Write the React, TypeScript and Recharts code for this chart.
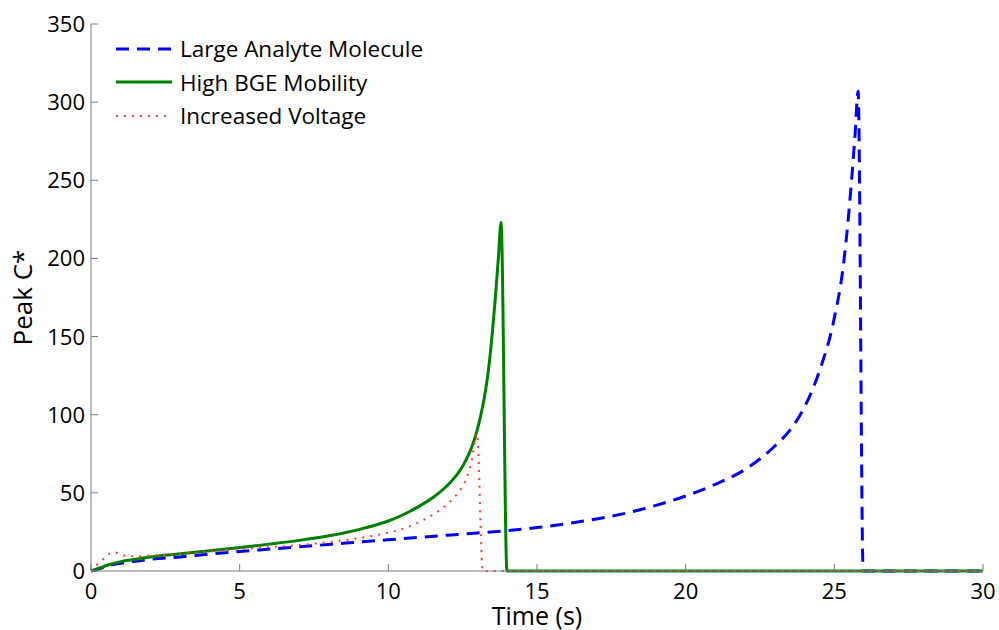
import { LineChart, Line, XAxis, YAxis, Legend } from 'recharts';

// Large Analyte Molecule (blue dashed)
const blueTime = [0, 0.3, 0.6, 1, 1.5, 2, 3, 4, 5, 6, 7, 8, 9, 10, 11, 12, 13, 14, 15, 16, 17, 18, 19, 20, 21, 22, 23, 23.5, 24, 24.5, 25, 25.3, 25.5, 25.7, 25.8, 25.97, 30];
const blueValues = [0, 1.5, 3.5, 5, 6.3, 7.5, 9, 10.8, 12.5, 14, 15.5, 17, 18.5, 20, 21.5, 22.9, 24.3, 25.8, 27.8, 30.3, 33.3, 37, 42, 48, 55.5, 65, 80, 90, 105, 128, 162, 195, 232, 280, 307, 0, 0];

// High BGE Mobility (green solid)
const greenTime = [0, 0.3, 0.6, 1, 1.5, 2, 3, 4, 5, 6, 7, 8, 9, 10, 10.5, 11, 11.5, 12, 12.5, 12.8, 13, 13.2, 13.35, 13.5, 13.6, 13.7, 13.79, 13.99, 30];
const greenValues = [0, 2, 4, 6, 7.5, 9, 11, 13, 15, 17.2, 19.6, 22.5, 26.5, 32, 36, 41, 47, 55, 67, 79, 91, 108, 126, 153, 175, 200, 223, 0, 0];

// Increased Voltage (red dotted)
const redTime = [0, 0.37, 0.75, 1.2, 1.5, 2, 3, 4, 5, 6, 7, 8, 9, 10, 10.5, 11, 11.5, 12, 12.3, 12.6, 12.8, 12.98, 13.18, 30];
const redValues = [0, 7, 12, 9.6, 9.4, 9.8, 11, 12.5, 14, 15.3, 16.6, 18.5, 21, 24.5, 27, 31, 36, 43, 49, 58, 70, 88, 0, 0];

const xTicks = [0, 5, 10, 15, 20, 25, 30];
const yTicks = [0, 50, 100, 150, 200, 250, 300, 350];

const toRows = (ts: number[], vs: number[]) => ts.map((t, i) => ({ t, v: vs[i] }));

const blueData = toRows(blueTime, blueValues);
const greenData = toRows(greenTime, greenValues);
const redData = toRows(redTime, redValues);

const legendItems = [
  { name: 'Large Analyte Molecule', color: '#0000ff', width: 3, dash: '13 8' },
  { name: 'High BGE Mobility', color: '#008000', width: 3, dash: '' },
  { name: 'Increased Voltage', color: '#ff3838', width: 2, dash: '2 6' },
];

const FONT = '"Open Sans", sans-serif';
const AXIS = '#7a7a7a';

const XTick = (props: any) => {
  const { x, y, payload } = props;
  return (
    <g>
      <line x1={x} y1={y} x2={x} y2={y - 7} stroke={AXIS} strokeWidth={1} />
      <text x={x} y={y + 28} textAnchor="middle" fontSize={22} fontFamily={FONT} fill="#000">
        {payload.value}
      </text>
    </g>
  );
};

const YTick = (props: any) => {
  const { x, y, payload } = props;
  return (
    <g>
      <line x1={x} y1={y} x2={x + 7} y2={y} stroke={AXIS} strokeWidth={1} />
      <text x={x - 6} y={y + 8} textAnchor="end" fontSize={22} fontFamily={FONT} fill="#000">
        {payload.value}
      </text>
    </g>
  );
};

const renderLegend = () => (
  <div style={{ fontFamily: FONT, fontSize: 22.5, color: '#000' }}>
    {legendItems.map((item) => (
      <div key={item.name} style={{ display: 'flex', alignItems: 'center', height: 33.5 }}>
        <svg width={60} height={20}>
          <line x1={2} y1={10} x2={58} y2={10} stroke={item.color} strokeWidth={item.width} strokeDasharray={item.dash} />
        </svg>
        <span style={{ marginLeft: 6, whiteSpace: 'nowrap' }}>{item.name}</span>
      </div>
    ))}
  </div>
);

function App() {
  return (
    <div style={{ position: 'absolute', left: 0, top: 0, width: 999, height: 630, background: '#fff' }}>
      <LineChart width={999} height={630} margin={{ top: 24, right: 16, bottom: 0, left: 0 }}>
        <XAxis
          dataKey="t"
          type="number"
          domain={[0, 30]}
          ticks={xTicks}
          tickSize={0}
          tickMargin={0}
          height={59}
          stroke={AXIS}
          tick={<XTick />}
          interval={0}
          allowDuplicatedCategory={false}
          label={{ value: 'Time (s)', position: 'insideBottom', offset: 5, fontSize: 25, fontFamily: FONT, fill: '#000' }}
        />
        <YAxis
          dataKey="v"
          type="number"
          domain={[0, 350]}
          ticks={yTicks}
          tickSize={0}
          tickMargin={0}
          width={91}
          stroke={AXIS}
          tick={<YTick />}
          interval={0}
          label={{ value: 'Peak C*', angle: -90, position: 'insideLeft', offset: 23, fontSize: 26, fontFamily: FONT, fill: '#000', style: { textAnchor: 'middle' } }}
        />
        <Legend
          layout="vertical"
          align="center"
          verticalAlign="middle"
          wrapperStyle={{ left: 114, top: 32, width: 'auto' }}
          content={renderLegend}
        />
        <Line data={blueData} dataKey="v" name="Large Analyte Molecule" type="monotone" stroke="#0000ff" strokeWidth={3} strokeDasharray="13 8" dot={false} isAnimationActive={false} />
        <Line data={greenData} dataKey="v" name="High BGE Mobility" type="monotone" stroke="#008000" strokeWidth={3} dot={false} isAnimationActive={false} />
        <Line data={redData} dataKey="v" name="Increased Voltage" type="monotone" stroke="#ff3838" strokeWidth={2} strokeDasharray="2 6" dot={false} isAnimationActive={false} />
      </LineChart>
    </div>
  );
}

export default App;
